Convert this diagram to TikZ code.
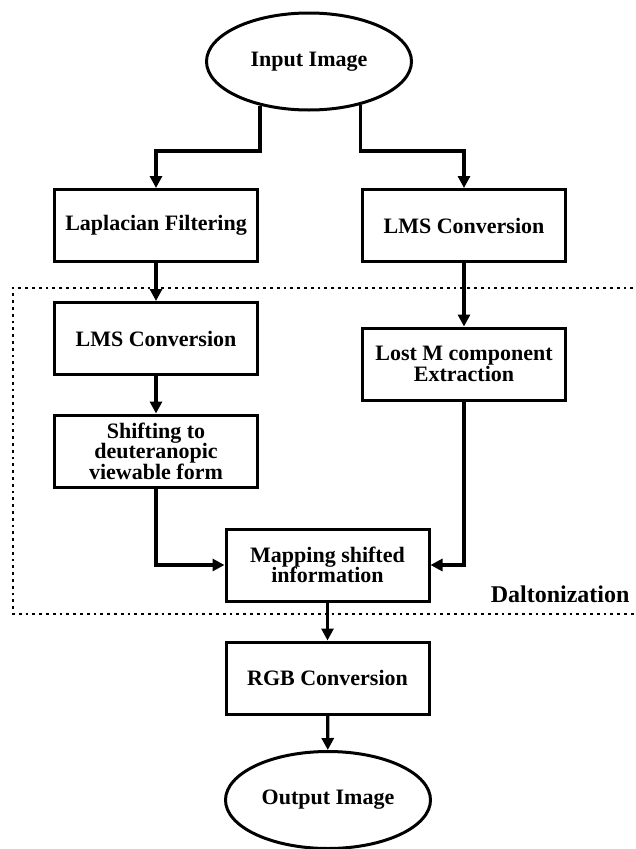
\documentclass[tikz,border=0pt]{standalone}
\usepackage{fontspec}
\setmainfont{Liberation Serif}
\usetikzlibrary{positioning, arrows.meta, shapes.geometric}

\begin{document}
\begin{tikzpicture}[x=1pt, y=-1pt, >={Triangle[length=12pt,width=12pt]},
    block/.style={draw, rectangle, line width=3pt, minimum width=203pt, minimum height=72pt,
        inner sep=0pt, align=center, font=\fontsize{22}{20.5}\selectfont\bfseries},
    term/.style={draw, ellipse, line width=3pt, minimum width=205pt, minimum height=97pt,
        inner sep=0pt, font=\fontsize{22}{20.5}\selectfont\bfseries},
    link/.style={->, line width=3.2pt},
    region/.style={line width=2.8pt, dash pattern=on 2.8pt off 4pt}]

\useasboundingbox (0,0) rectangle (636,849);

% Terminals
\node[term] (in) at (309,61.5) {Input Image};
\node[term] (out) at (328,800) {Output Image};

% Blocks
\node[block] (lap) at (156,225.5) {Laplacian Filtering};
\node[block] (lmsA) at (464,225.5) {LMS Conversion};
\node[block] (lmsB) at (156,338.5) {LMS Conversion};
\node[block] (lost) at (464,364) {Lost M component\\Extraction};
\node[block] (shift) at (156,451) {Shifting to\\deuteranopic\\viewable form};
\node[block] (map) at (327.5,565) {Mapping shifted\\information};
\node[block] (rgb) at (327.5,678) {RGB Conversion};

% Daltonization region
\draw[region] (640,288) -- (13,288) -- (13,614) -- (640,614);
\node[anchor=east, font=\fontsize{24}{24}\selectfont\bfseries] (dalt) at (633,594) {Daltonization};

% Connections
\coordinate (fork) at (309,151);
\draw[link] (in.222) -- (in.222 |- fork) -| (lap);
\draw[link] (in.320) -- (in.320 |- fork) -| (lmsA);
\draw[link] (lap) -- (lmsB);
\draw[link] (lmsA) -- (lost);
\draw[link] (lmsB) -- (shift);
\draw[link] (shift) |- (map);
\draw[link] (lost) |- (map);
\draw[link] (map) -- (rgb);
\draw[link] (rgb) -- (out);

\end{tikzpicture}
\end{document}
